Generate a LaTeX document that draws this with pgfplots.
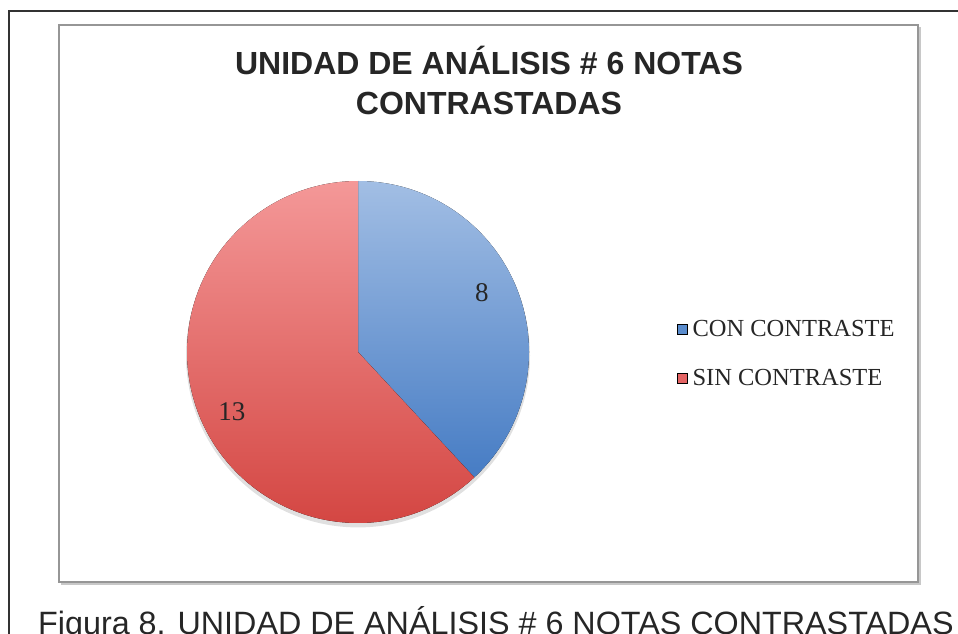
\documentclass[border=0pt]{standalone}
\usepackage{pgfplots}
\usepackage{pgfplotstable}
\pgfplotsset{compat=1.18}
\usepackage{fontspec}
\setmainfont{Liberation Serif}
\newfontfamily\arial{Liberation Sans}
\definecolor{bluetop}{RGB}{162,190,228}
\definecolor{bluebot}{RGB}{70,124,196}
\definecolor{redtop}{RGB}{244,152,152}
\definecolor{redbot}{RGB}{210,66,62}
\definecolor{framegray}{RGB}{150,150,150}
\pgfplotstableread{
label value
CON 8
SIN 13
}\piedata
\begin{document}%
\begin{tikzpicture}[x=1pt,y=1pt]
\pgfplotstablegetelem{0}{value}\of\piedata\let\va\pgfplotsretval
\pgfplotstablegetelem{1}{value}\of\piedata\let\vb\pgfplotsretval
\pgfmathsetmacro{\tot}{\va+\vb}
\pgfmathsetmacro{\angA}{90-360*\va/\tot}
\pgfmathsetmacro{\angB}{\angA-360*\vb/\tot}
\useasboundingbox (0,0) rectangle (958,633);
% outer frame
\draw[line width=2pt, color={rgb,255:red,50;green,50;blue,50}] (9,-5) -- (9,622) -- (965,622);
% inner chart frame with shadow
\draw[line width=2pt, color={rgb,255:red,200;green,200;blue,200}] (61,49) -- (920,49) -- (920,606);
\draw[line width=1.3pt, color=framegray] (59,51) rectangle (918,608);
% title
\node[align=center, font=\arial\bfseries\fontsize{32}{40}\selectfont, text=black!85] at (489,553) {UNIDAD DE ANÁLISIS \# 6 NOTAS\\CONTRASTADAS};
% caption
\node[anchor=base west, inner sep=0pt, font=\arial\fontsize{32.3}{40}\selectfont, text=black!85] at (38,-1) {Figura 8. UNIDAD DE ANÁLISIS \# 6 NOTAS CONTRASTADAS};
\begin{axis}[at={(358pt,281pt)}, anchor=origin, x=171pt, y=171pt,
  xmin=-1, xmax=1, ymin=-1, ymax=1, hide axis, clip=false,
  legend style={at={(axis cs:1.865,0.19)}, anchor=north west, draw=none, fill=none,
    font=\fontsize{24.5}{28}\selectfont, row sep=29pt, inner sep=0pt,
    nodes={inner sep=1pt, text=black!85}},
  legend cell align=left,
  legend image code/.code={\fill[#1] (0pt,-5pt) rectangle (10pt,5pt);}]
\addlegendimage{fill={rgb,255:red,90;green,140;blue,205}}
\addlegendentry{\hspace{4pt}CON CONTRASTE}
\addlegendimage{fill={rgb,255:red,228;green,100;blue,100}}
\addlegendentry{\hspace{4pt}SIN CONTRASTE}
% shadow
\fill[black, opacity=0.12] (axis cs:0,-0.02) circle[radius=172pt];
\fill[top color=bluetop, bottom color=bluebot] (axis cs:0,0) -- (axis cs:0,1) arc[start angle=90, end angle=\angA, radius=171pt] -- cycle;
\fill[top color=redtop, bottom color=redbot] (axis cs:0,0) -- ({axis cs:{cos(\angA)},{sin(\angA)}}) arc[start angle=\angA, end angle=\angB, radius=171pt] -- cycle;
\node[font=\fontsize{27}{30}\selectfont, text=black!85] at (axis cs:0.725,0.345) {\va};
\node[font=\fontsize{27}{30}\selectfont, text=black!85] at (axis cs:-0.737,-0.351) {\vb};
\end{axis}
\end{tikzpicture}%
\end{document}
